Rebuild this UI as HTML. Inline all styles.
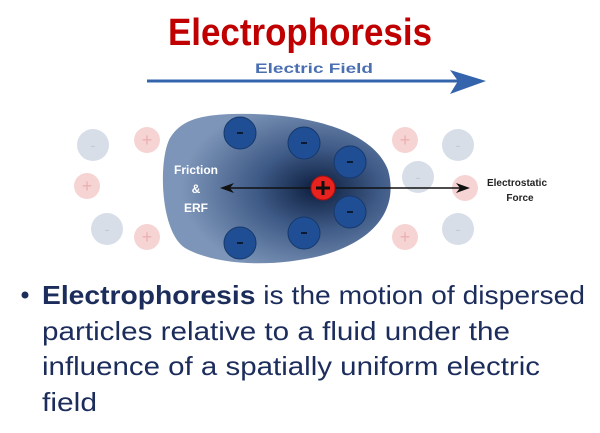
<!DOCTYPE html>
<html><head><meta charset="utf-8"><style>
html,body{margin:0;padding:0;background:#fff;}
svg{display:block;}
</style></head><body>
<svg width="600" height="433" viewBox="0 0 600 433" xmlns="http://www.w3.org/2000/svg" font-family="Liberation Sans, sans-serif">
<defs>
<radialGradient id="g" cx="0.68" cy="0.5" r="0.6">
<stop offset="0" stop-color="#0c1d3d"/>
<stop offset="0.45" stop-color="#3e5a86"/>
<stop offset="1" stop-color="#7d95b8"/>
</radialGradient>
</defs>
<text x="168" y="45" font-size="38" font-weight="bold" fill="#c00000" textLength="264" lengthAdjust="spacingAndGlyphs">Electrophoresis</text>
<text x="255" y="73" font-size="14" font-weight="bold" fill="#4a70b2" textLength="118" lengthAdjust="spacingAndGlyphs">Electric Field</text>
<line x1="147" y1="81" x2="468" y2="81" stroke="#3464ac" stroke-width="3"/>
<polygon points="450,70 486,81 450,94 458,81" fill="#3464ac"/>
<!-- faded ions -->
<g opacity="0.9">
<circle cx="93" cy="145" r="16" fill="#d3dbe6"/><text x="93" y="150" font-size="14" fill="#b8c4d4" text-anchor="middle">-</text>
<circle cx="147" cy="140" r="13" fill="#f6d0d0"/><text x="147" y="146" font-size="18" fill="#e9a9a9" text-anchor="middle">+</text>
<circle cx="87" cy="186" r="13" fill="#f6d0d0"/><text x="87" y="192" font-size="18" fill="#e9a9a9" text-anchor="middle">+</text>
<circle cx="107" cy="229" r="16" fill="#d3dbe6"/><text x="107" y="234" font-size="14" fill="#b8c4d4" text-anchor="middle">-</text>
<circle cx="147" cy="237" r="13" fill="#f6d0d0"/><text x="147" y="243" font-size="18" fill="#e9a9a9" text-anchor="middle">+</text>
<circle cx="405" cy="140" r="13" fill="#f6d0d0"/><text x="405" y="146" font-size="18" fill="#e9a9a9" text-anchor="middle">+</text>
<circle cx="458" cy="145" r="16" fill="#d3dbe6"/><text x="458" y="150" font-size="14" fill="#b8c4d4" text-anchor="middle">-</text>
<circle cx="418" cy="177" r="16" fill="#d3dbe6"/><text x="418" y="182" font-size="14" fill="#b8c4d4" text-anchor="middle">-</text>
<circle cx="465" cy="188" r="13" fill="#f6d0d0"/>
<circle cx="405" cy="237" r="13" fill="#f6d0d0"/><text x="405" y="243" font-size="18" fill="#e9a9a9" text-anchor="middle">+</text>
<circle cx="458" cy="229" r="16" fill="#d3dbe6"/><text x="458" y="234" font-size="14" fill="#b8c4d4" text-anchor="middle">-</text>
</g>
<!-- blob -->
<path d="M232,114 C300,112 372,128 388,170 C398,205 380,240 320,256 C270,268 215,265 185,248 C160,232 158,160 170,138 C182,118 205,115 232,114 Z" fill="url(#g)"/>
<text x="196" y="174" font-size="12" font-weight="bold" fill="#fff" text-anchor="middle">Friction</text>
<text x="196" y="193" font-size="12" font-weight="bold" fill="#fff" text-anchor="middle">&amp;</text>
<text x="196" y="212" font-size="12" font-weight="bold" fill="#fff" text-anchor="middle">ERF</text>
<g fill="#1f4e94" stroke="#16386b" stroke-width="1">
<circle cx="240" cy="133" r="16"/><circle cx="304" cy="143" r="16"/><circle cx="350" cy="162" r="16"/>
<circle cx="350" cy="212" r="16"/><circle cx="304" cy="233" r="16"/><circle cx="240" cy="243" r="16"/>
</g>
<g fill="#0a1a33"><rect x="237" y="132" width="6" height="2"/><rect x="301" y="142" width="6" height="2"/><rect x="347" y="161" width="6" height="2"/><rect x="347" y="211" width="6" height="2"/><rect x="301" y="232" width="6" height="2"/><rect x="237" y="242" width="6" height="2"/></g>
<line x1="228" y1="188" x2="462" y2="188" stroke="#111" stroke-width="1.5"/>
<polygon points="220,188 234,183 230,188 234,193" fill="#111"/>
<polygon points="470,188 456,183 460,188 456,193" fill="#111"/>
<circle cx="323" cy="188" r="12" fill="#e8231f" stroke="#a31010"/>
<rect x="316" y="186.5" width="14" height="3" fill="#111"/><rect x="321.5" y="181" width="3" height="14" fill="#111"/>
<text x="517" y="186" font-size="10" font-weight="bold" fill="#222" text-anchor="middle">Electrostatic</text>
<text x="520" y="201" font-size="10" font-weight="bold" fill="#222" text-anchor="middle">Force</text>
<!-- bullet -->
<g fill="#1c2d5c" font-size="26">
<circle cx="25" cy="295" r="3.5"/>
<text x="42" y="304" textLength="543" lengthAdjust="spacingAndGlyphs"><tspan font-weight="bold">Electrophoresis</tspan> is the motion of dispersed</text>
<text x="42" y="340" textLength="468" lengthAdjust="spacingAndGlyphs">particles relative to a fluid under the</text>
<text x="42" y="375" textLength="498" lengthAdjust="spacingAndGlyphs">influence of a spatially uniform electric</text>
<text x="42" y="411" textLength="55" lengthAdjust="spacingAndGlyphs">field</text>
</g>
</svg>
</body></html>
